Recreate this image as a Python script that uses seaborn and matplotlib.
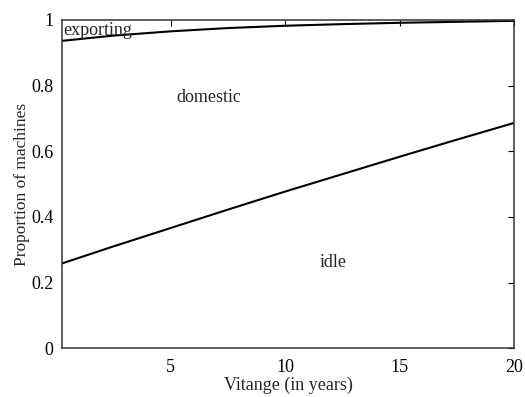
import matplotlib
matplotlib.use("Agg")
import pandas as pd
import seaborn as sns
from matplotlib import pyplot as plt
from matplotlib.ticker import FuncFormatter

# values
vintage = [0.25, 2.5, 5, 7.5, 10, 12.5, 15, 17.5, 20]
idle_upper = [0.258, 0.31, 0.366, 0.422, 0.477, 0.530, 0.583, 0.635, 0.686]
domestic_upper = [0.936, 0.952, 0.965, 0.975, 0.982, 0.987, 0.991, 0.994, 0.997]

x_ticks = [5, 10, 15, 20]
y_ticks = [0, 0.2, 0.4, 0.6, 0.8, 1]

df = pd.DataFrame({"vintage": vintage, "idle": idle_upper, "domestic": domestic_upper})

sns.set_theme(style="white")
plt.rcParams["font.family"] = ["Liberation Serif", "DejaVu Serif"]

fig = plt.figure(figsize=(5.25, 3.97), dpi=100)
ax = fig.add_axes([0.118, 0.123, 0.861, 0.827])

sns.lineplot(data=df, x="vintage", y="idle", color="black", linewidth=1.5, ax=ax)
sns.lineplot(data=df, x="vintage", y="domestic", color="black", linewidth=1.5, ax=ax)

ax.set_xlim(0.25, 20)
ax.set_ylim(0, 1)
ax.set_xticks(x_ticks)
ax.set_yticks(y_ticks)
ax.yaxis.set_major_formatter(FuncFormatter(lambda v, p: f"{v:g}"))
ax.tick_params(direction="in", length=4, width=0.8, top=True, right=True,
               labelsize=13, colors="black", pad=6)
ax.tick_params(axis="x", pad=8)
for s in ax.spines.values():
    s.set_color("#333333")
    s.set_linewidth(1.1)

ax.set_xlabel("Vitange (in years)", fontsize=13, labelpad=0)
ax.set_ylabel("Proportion of machines", fontsize=12.5, labelpad=1)

ax.text(0.3, 0.969, "exporting", fontsize=13, va="center", ha="left")
ax.text(6.65, 0.762, "domestic", fontsize=13, va="center", ha="center")
ax.text(12.1, 0.26, "idle", fontsize=13, va="center", ha="center")

fig.savefig("out.png", dpi=100)
